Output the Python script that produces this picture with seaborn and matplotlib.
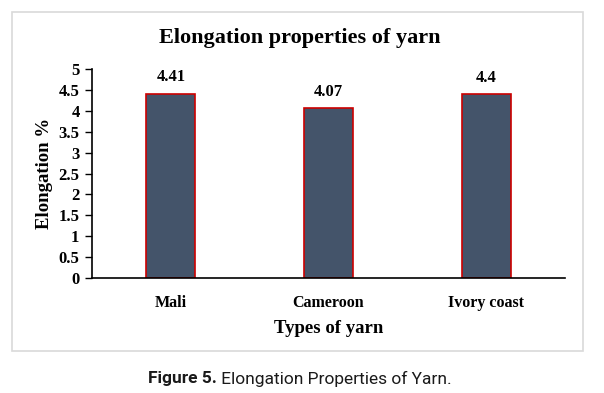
import matplotlib
matplotlib.use("Agg")
import matplotlib.pyplot as plt
import seaborn as sns
import pandas as pd
from matplotlib.patches import Rectangle

categories = ["Mali", "Cameroon", "Ivory coast"]
values = [4.41, 4.07, 4.4]
labels = ["4.41", "4.07", "4.4"]
yticks = [0, 0.5, 1, 1.5, 2, 2.5, 3, 3.5, 4, 4.5, 5]
ytick_labels = ["0", "0.5", "1", "1.5", "2", "2.5", "3", "3.5", "4", "4.5", "5"]

sns.set_theme(style="white")
plt.rcParams['font.family'] = ['Liberation Serif', 'DejaVu Serif']
plt.rcParams['text.color'] = 'black'
plt.rcParams['axes.labelcolor'] = 'black'
plt.rcParams['xtick.color'] = 'black'
plt.rcParams['ytick.color'] = 'black'

df = pd.DataFrame({"type": categories, "elong": values})

W, H = 604, 393
fig = plt.figure(figsize=(W / 100, H / 100), dpi=100)
ax = fig.add_axes([92 / W, 1 - 278 / H, (565 - 92) / W, (278 - 69) / H])

sns.barplot(data=df, x="type", y="elong", ax=ax, color="#44546A", saturation=1,
            width=0.31, edgecolor="#CC0000", linewidth=1.2)

ax.set_ylim(0, 5)
ax.set_xlim(-0.5, 2.5)
ax.set_yticks(yticks)
ax.set_yticklabels(ytick_labels, fontsize=12, fontweight="bold")
ax.set_xticks(range(len(categories)))
ax.set_xticklabels(categories, fontsize=11.5, fontweight="bold")
ax.tick_params(axis="y", length=5, width=1, color="black", pad=4, left=True)
ax.tick_params(axis="x", length=0, pad=12)
for s in ["top", "right"]:
    ax.spines[s].set_visible(False)
for s in ["left", "bottom"]:
    ax.spines[s].set_color("black")
    ax.spines[s].set_linewidth(1.2)

ax.set_xlabel("Types of yarn", fontsize=13.5, fontweight="bold", labelpad=7)
ax.set_ylabel("Elongation %", fontsize=13.5, fontweight="bold", labelpad=4)

for i, (v, t) in enumerate(zip(values, labels)):
    ax.annotate(t, (i, v), xytext=(0, 6), textcoords="offset points",
                ha="center", va="bottom", fontsize=12, fontweight="bold")

fig.text(300 / W, 1 - 38 / H, "Elongation properties of yarn", ha="center", va="center",
         fontsize=16, fontweight="bold")

fig.patches.append(Rectangle((12 / W, 1 - 351 / H), (583 - 12) / W, (351 - 12) / H,
                             transform=fig.transFigure, fill=False,
                             edgecolor="#D9D9D9", linewidth=1.2))

fam = ["Liberation Sans Narrow", "Roboto", "DejaVu Sans"]
t1 = fig.text(0, 0, "Figure 5.", fontsize=12.5, fontweight="bold", family=fam, color="#1a1a1a")
t2 = fig.text(0, 0, " Elongation Properties of Yarn.", fontsize=12.5, family=fam, color="#1a1a1a")
fig.canvas.draw()
r = fig.canvas.get_renderer()
w1 = t1.get_window_extent(r).width
w2 = t2.get_window_extent(r).width
x0 = 300 - (w1 + w2) / 2
t1.set_position((x0 / W, 1 - 379 / H)); t1.set_va("center")
t2.set_position(((x0 + w1) / W, 1 - 379 / H)); t2.set_va("center")

fig.savefig("out.png", dpi=100)
